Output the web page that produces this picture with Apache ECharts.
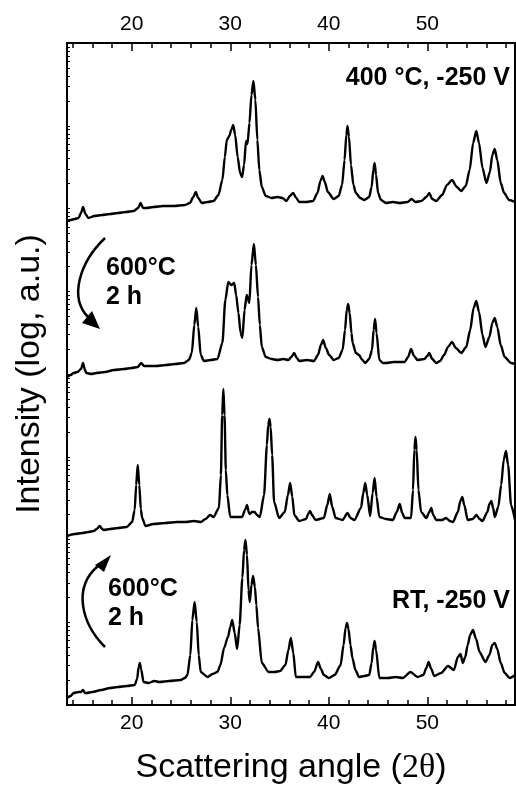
<!DOCTYPE html>
<html>
<head>
<meta charset="utf-8">
<script src="https://cdn.jsdelivr.net/npm/echarts@6/dist/echarts.min.js"></script>
<style>
  html, body { margin: 0; padding: 0; background: #fff; }
  #chart { width: 516px; height: 793px; }
</style>
</head>
<body>
<div id="chart"></div>
<script>
// 2theta range and tick labels
var xMin = 13.43, xMax = 58.9;
var majorTicks = [20, 30, 40, 50];
var minorTicks = [14, 16, 18, 22, 24, 26, 28, 32, 34, 36, 38, 42, 44, 46, 48, 52, 54, 56, 58];
// log-style ticks on the intensity axis (decades, and 2..9 inside each)
var decades = [0, 1, 2, 3, 4, 5, 6, 7];
var logSteps = [1, 2, 3, 4, 5, 6, 7, 8, 9];

// patterns, stacked (offset units), top to bottom
var curve400 = [
  [13.43,484],[13.8,485],[14.2,486],[14.6,487],[14.85,492],[15.06,498],[15.3,491],[15.6,487],[16.2,489],[17.0,490],
  [17.8,491],[18.6,492],[19.4,493],[20.2,494],[20.65,497],[20.9,502],[21.15,497],[21.5,497],[22.2,498],[23.2,499],
  [24.3,499],[25.4,500],[25.9,502],[26.25,508],[26.5,513],[26.75,507],[27.1,502],[27.7,503],[28.3,504],[28.8,510],
  [29.2,525],[29.45,548],[29.65,565],[29.9,569],[30.1,575],[30.3,580],[30.5,570],[30.75,548],[31.0,532],[31.2,528],
  [31.4,540],[31.6,564],[31.75,561],[31.95,582],[32.15,610],[32.35,624],[32.55,605],[32.75,565],[32.95,535],[33.2,518],
  [33.6,509],[34.2,507],[34.8,508],[35.3,507],[35.7,504],[36.05,509],[36.38,512],[36.7,507],[37.0,503],[37.7,503],
  [38.4,504],[38.85,512],[39.15,524],[39.37,529],[39.6,523],[39.9,513],[40.5,506],[41.0,509],[41.35,520],[41.6,545],
  [41.78,570],[41.9,579],[42.05,568],[42.25,540],[42.5,520],[42.75,512],[43.2,507],[43.6,505],[44.1,508],[44.35,518],
  [44.52,535],[44.65,542],[44.8,530],[45.0,512],[45.3,505],[45.8,502],[46.5,503],[47.2,502],[48.0,503],[48.4,506],
  [48.8,503],[49.4,504],[49.9,508],[50.2,512],[50.5,506],[50.9,504],[51.5,510],[52.0,520],[52.5,525],[53.0,518],
  [53.44,514],[53.9,519],[54.3,535],[54.65,562],[54.97,574],[55.25,562],[55.6,537],[56.0,522],[56.35,533],[56.6,550],
  [56.84,556],[57.1,545],[57.45,522],[57.8,512],[58.3,505],[58.9,503]
];
var curve400Annealed = [
  [13.43,328],[13.8,330],[14.1,332],[14.5,333],[14.85,336],[15.06,342],[15.25,335],[15.4,332],[15.9,331],[16.4,332],
  [17.3,333],[18.2,335],[19.2,336],[20.0,337],[20.6,338],[20.96,342],[21.25,339],[21.5,339],[22.5,339],[23.5,340],
  [24.4,341],[25.3,342],[25.8,345],[26.1,352],[26.35,380],[26.55,397],[26.75,378],[27.0,350],[27.33,344],[28.0,345],
  [28.7,346],[29.2,362],[29.5,405],[29.8,423],[30.1,420],[30.4,422],[30.6,410],[30.83,392],[31.05,372],[31.23,367],
  [31.45,395],[31.67,410],[31.94,402],[32.15,440],[32.4,461],[32.6,440],[32.82,408],[33.0,380],[33.2,358],[33.6,348],
  [34.2,346],[34.8,345],[35.4,346],[35.9,345],[36.2,348],[36.48,352],[36.75,347],[37.0,344],[37.8,345],[38.5,344],
  [38.9,350],[39.2,360],[39.43,365],[39.7,357],[40.04,350],[40.5,345],[41.0,347],[41.4,355],[41.65,375],[41.82,395],
  [41.97,401],[42.12,392],[42.3,372],[42.42,362],[42.75,352],[43.07,350],[43.4,345],[43.7,342],[44.1,346],[44.39,355],
  [44.55,375],[44.7,386],[44.85,372],[45.13,345],[45.5,342],[45.8,342],[46.6,343],[47.7,343],[48.05,348],[48.35,356],
  [48.65,349],[49.0,345],[49.7,346],[50.0,349],[50.2,352],[50.5,346],[50.9,342],[51.3,344],[51.7,350],[52.1,358],
  [52.5,363],[52.9,357],[53.44,352],[53.95,358],[54.35,375],[54.7,397],[54.97,404],[55.25,393],[55.6,370],[55.9,358],
  [56.3,368],[56.6,382],[56.84,387],[57.1,378],[57.45,360],[57.85,348],[58.5,342],[58.9,341]
];
var curveMiddle = [
  [13.43,169],[14.2,171],[15.0,172],[15.6,173],[16.14,174],[16.45,176],[16.75,179],[17.0,176],[17.15,175],[17.8,176],
  [18.6,177],[19.5,178],[20.04,183],[20.3,195],[20.45,220],[20.61,240],[20.77,220],[20.92,196],[21.06,187],[21.4,179],
  [22.2,181],[23.4,182],[24.6,183],[25.5,183],[26.3,184],[27.0,183],[27.5,186],[27.96,190],[28.3,188],[28.85,197],
  [29.05,230],[29.18,290],[29.3,316],[29.42,290],[29.55,235],[29.7,210],[30.0,188],[30.6,188],[31.2,188],[31.5,195],
  [31.7,200],[31.9,192],[32.0,191],[32.2,193],[32.48,193],[32.7,190],[33.0,188],[33.43,210],[33.72,260],[33.85,280],
  [33.98,286],[34.1,278],[34.25,250],[34.45,203],[34.96,187],[35.53,193],[35.85,210],[36.08,222],[36.3,208],[36.5,190],
  [37.0,184],[37.7,186],[37.9,191],[38.1,194],[38.3,190],[38.65,185],[39.5,187],[39.85,200],[40.1,211],[40.35,198],
  [40.7,187],[41.4,185],[41.9,192],[42.2,187],[42.6,185],[43.27,197],[43.5,212],[43.7,222],[43.9,210],[44.2,189],
  [44.45,212],[44.65,227],[44.85,208],[45.13,188],[45.8,186],[46.5,185],[46.9,193],[47.2,201],[47.45,192],[47.7,187],
  [48.35,187],[48.55,215],[48.68,255],[48.8,268],[48.92,255],[49.1,215],[49.37,193],[49.9,187],[50.2,193],[50.4,197],
  [50.6,190],[50.9,185],[51.5,185],[51.9,187],[52.3,184],[52.6,183],[53.1,193],[53.35,204],[53.55,208],[53.75,200],
  [54.1,185],[54.6,186],[55.0,190],[55.3,186],[55.6,184],[56.1,193],[56.3,201],[56.5,204],[56.68,197],[56.85,188],
  [57.2,198],[57.5,220],[57.75,245],[57.99,254],[58.2,240],[58.5,200],[58.9,185]
];
var curveRT = [
  [13.43,7],[13.8,9],[14.1,12],[14.6,13],[14.85,13],[15.06,15],[15.25,12],[15.4,12],[16.0,13],[16.9,15],
  [17.8,17],[18.6,18],[19.5,19],[20.3,20],[20.55,26],[20.7,38],[20.82,42],[20.95,36],[21.2,23],[21.7,22],
  [22.3,24],[22.8,23],[23.8,24],[24.96,25],[25.4,27],[25.65,30],[25.95,50],[26.15,85],[26.38,103],[26.6,83],
  [26.8,50],[27.0,33],[27.7,28],[28.2,31],[28.7,33],[29.0,40],[29.37,57],[29.77,68],[30.0,78],[30.2,85],
  [30.45,72],[30.7,56],[30.95,80],[31.23,127],[31.4,155],[31.54,165],[31.7,150],[31.85,115],[31.98,103],[32.15,120],
  [32.32,129],[32.5,118],[32.65,100],[32.82,77],[33.2,42],[33.9,33],[34.5,33],[35.05,34],[35.6,40],[35.9,55],
  [36.15,67],[36.4,52],[36.65,28],[37.3,28],[38.1,28],[38.5,33],[38.92,43],[39.2,36],[39.5,30],[40.0,27],
  [40.6,30],[41.2,40],[41.5,60],[41.7,77],[41.85,82],[42.0,76],[42.2,60],[42.4,47],[42.7,35],[43.07,28],
  [43.6,29],[44.1,30],[44.35,42],[44.52,58],[44.65,64],[44.8,55],[45.13,27],[46.0,27],[46.8,28],[47.5,27],
  [48.3,33],[49.0,28],[49.6,30],[49.9,37],[50.13,43],[50.4,36],[50.7,29],[51.4,32],[52.1,39],[52.7,35],
  [53.1,48],[53.37,51],[53.6,42],[53.85,48],[54.1,60],[54.35,70],[54.63,75],[54.95,66],[55.3,53],[55.9,43],
  [56.3,50],[56.6,60],[56.84,62],[57.1,56],[57.45,42],[57.85,32],[58.35,27],[58.9,30]
];

var logTicks = [];
decades.forEach(function (d) {
  logSteps.forEach(function (s) { logTicks.push(d + Math.log10(s)); });
});

var chart = echarts.init(document.getElementById('chart'));
var font = 'Liberation Sans, Arial, sans-serif';

function xax(pos, ticks, len, labels) {
  return {
    type: 'value', position: pos, min: xMin, max: xMax,
    axisLine: { show: false },
    splitLine: { show: false },
    axisTick: { inside: true, length: len, customValues: ticks, lineStyle: { color: '#000', width: 1.5 } },
    axisLabel: labels ? { customValues: majorTicks, color: '#000', fontSize: 21, fontFamily: font, margin: 8 } : { show: false }
  };
}

var bottomMajor = xax('bottom', majorTicks, 8, true);
bottomMajor.name = 'Scattering angle ({s|2θ})';
bottomMajor.nameLocation = 'middle';
bottomMajor.nameGap = 46;
bottomMajor.nameTextStyle = {
  color: '#000', fontSize: 34, fontFamily: font,
  rich: { s: { fontSize: 34, fontFamily: 'Liberation Serif, Times New Roman, serif', color: '#000' } }
};

function line(data) {
  return {
    type: 'line', data: data, showSymbol: false, smooth: 0.25, smoothMonotone: 'x',
    lineStyle: { color: '#000', width: 2.4 }, silent: true, animation: false
  };
}

function note(text, x, y, align) {
  return { type: 'text', style: { text: text, x: x, y: y, align: align, verticalAlign: 'middle', fontSize: 25, fontWeight: 'bold', fontFamily: font, fill: '#000' } };
}

var option = {
  animation: false,
  grid: { left: 67, right: 1, top: 43, bottom: 88, show: true, borderColor: '#000', borderWidth: 2, backgroundColor: 'transparent' },
  xAxis: [
    bottomMajor,
    xax('bottom', minorTicks, 5, false),
    xax('top', majorTicks, 8, true),
    xax('top', minorTicks, 5, false)
  ],
  yAxis: [
    { type: 'value', min: 0, max: 662, show: false },
    {
      type: 'value', min: 0, max: 8, position: 'left',
      name: 'Intensity (log, a.u.)', nameLocation: 'middle', nameGap: 20,
      nameTextStyle: { color: '#000', fontSize: 34, fontFamily: font },
      axisLine: { show: false }, splitLine: { show: false },
      axisTick: { inside: true, length: 3, customValues: logTicks, lineStyle: { color: '#000', width: 1 } },
      axisLabel: { show: false }
    }
  ],
  series: [line(curve400), line(curve400Annealed), line(curveMiddle), line(curveRT)],
  graphic: [
    note('400 °C, -250 V', 510, 78, 'right'),
    note('600°C', 106, 268, 'left'),
    note('2 h', 106, 297, 'left'),
    note('600°C', 108, 589, 'left'),
    note('2 h', 108, 618, 'left'),
    note('RT, -250 V', 510, 601, 'right'),
    // curved arrows
    { type: 'bezierCurve', shape: { x1: 105, y1: 238, cpx1: 80, cpy1: 262, cpx2: 68, cpy2: 298, x2: 89, y2: 318 }, style: { stroke: '#000', lineWidth: 2.5, fill: null } },
    { type: 'polygon', shape: { points: [[82, 323], [100, 329], [92, 311]] }, style: { fill: '#000' } },
    { type: 'bezierCurve', shape: { x1: 105, y1: 647, cpx1: 82, cpy1: 624, cpx2: 72, cpy2: 588, x2: 98, y2: 566 }, style: { stroke: '#000', lineWidth: 2.5, fill: null } },
    { type: 'polygon', shape: { points: [[95, 565], [111, 555], [104, 572]] }, style: { fill: '#000' } }
  ]
};
chart.setOption(option);
</script>
</body>
</html>
